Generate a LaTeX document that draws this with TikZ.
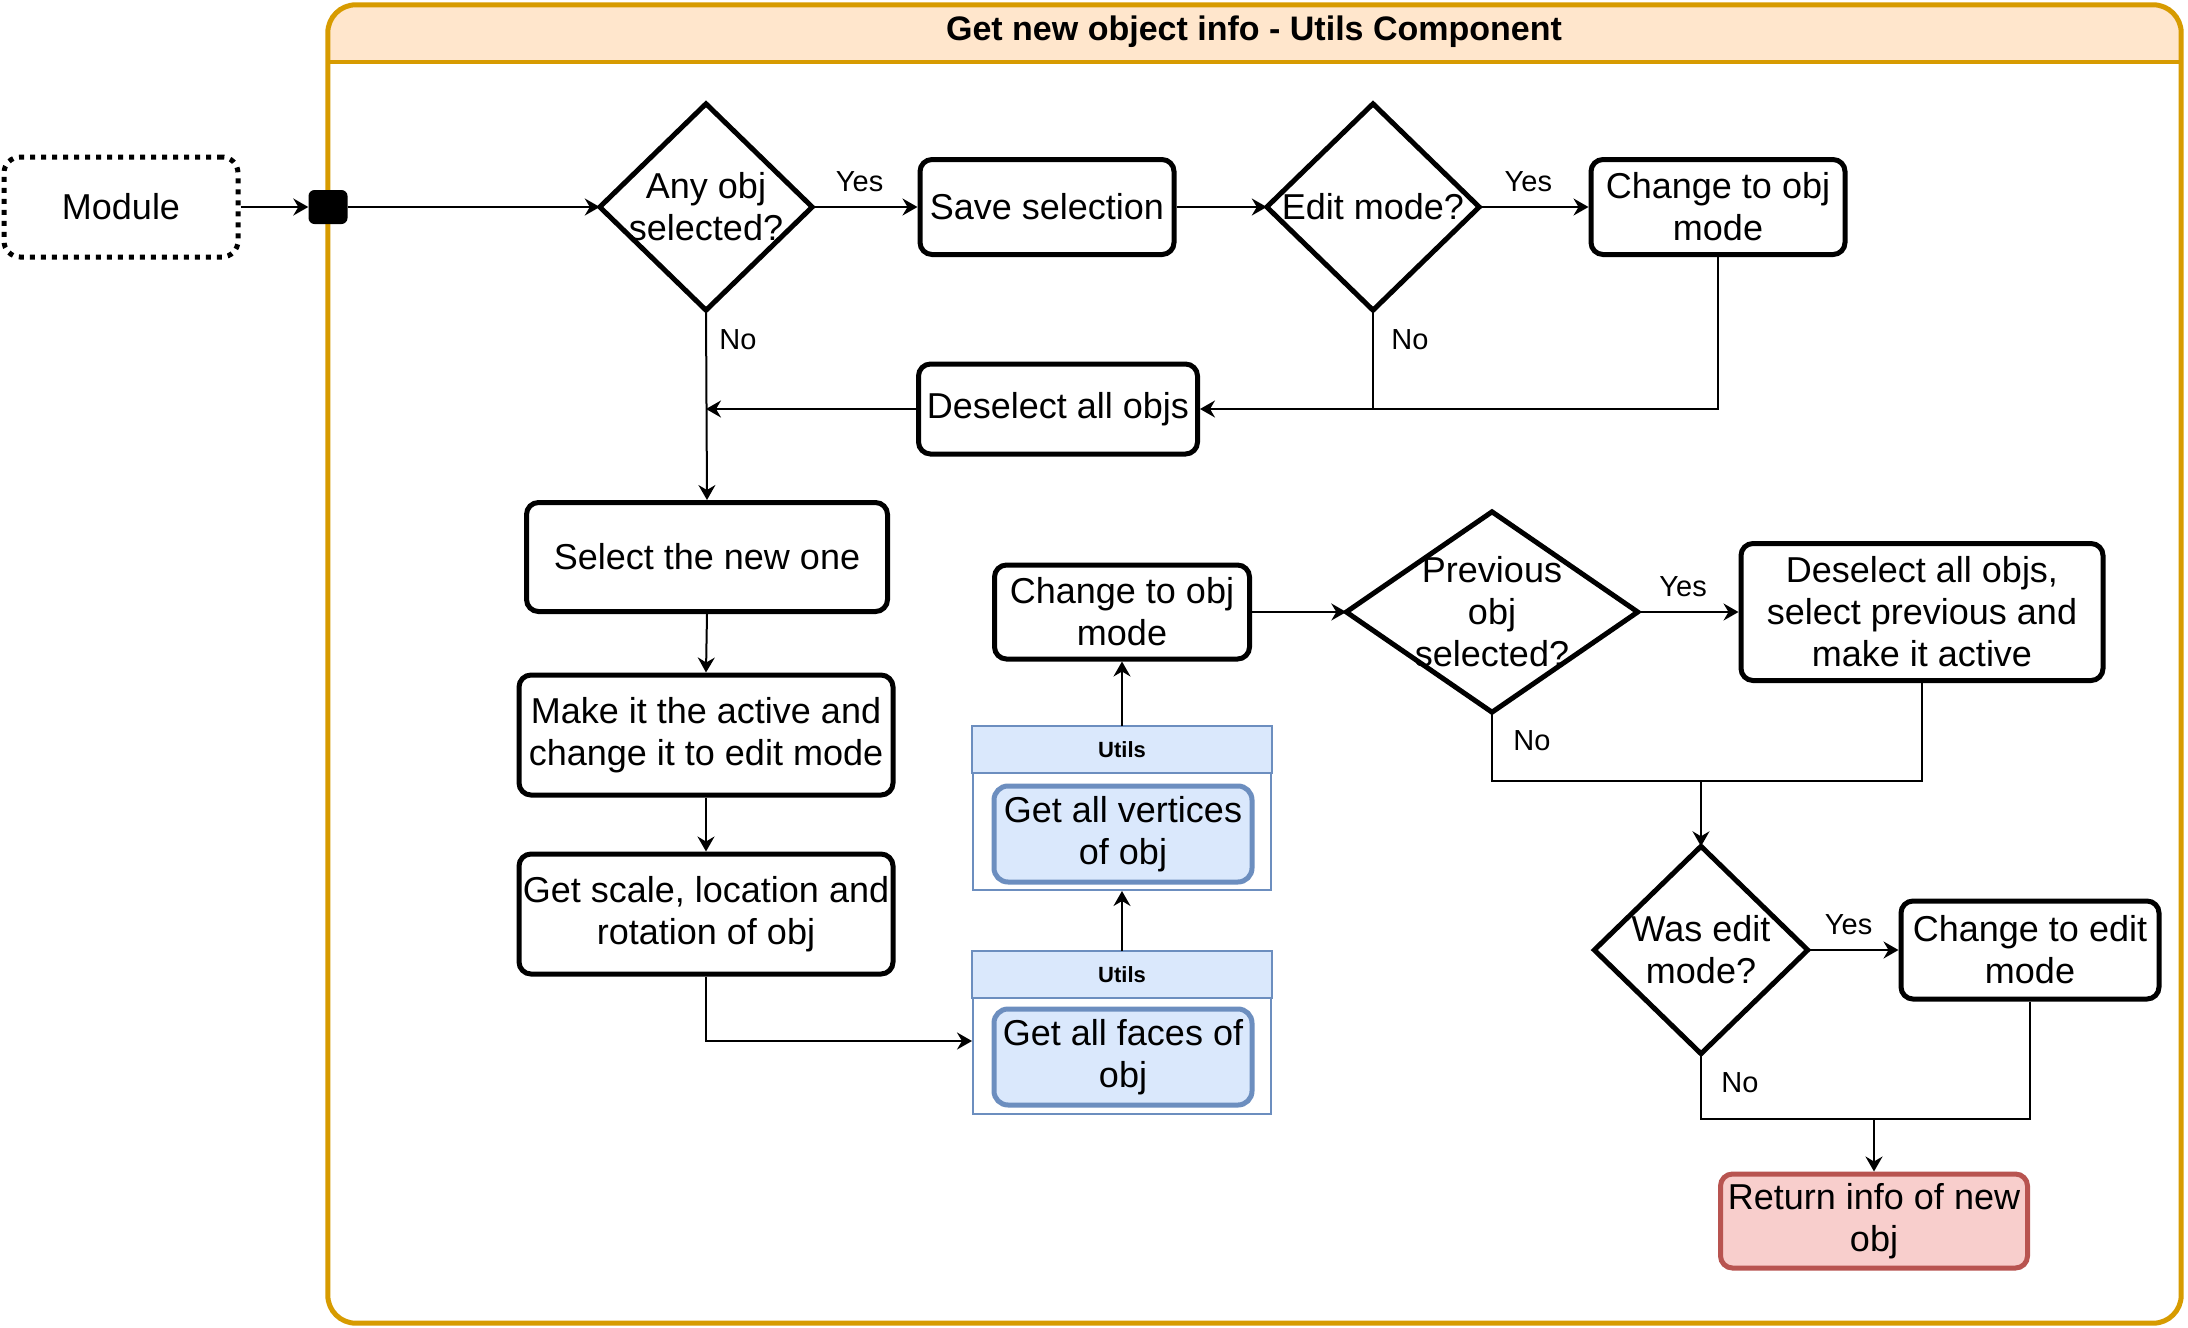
\documentclass[tikz,border=0pt]{standalone}
\usepackage{fontspec}
\setmainfont{Liberation Sans}
\usetikzlibrary{arrows.meta}
\definecolor{frameor}{HTML}{D79B00}
\definecolor{framefill}{HTML}{FFE6CC}
\definecolor{bluefill}{HTML}{DAE8FC}
\definecolor{bluedraw}{HTML}{6C8EBF}
\definecolor{redfill}{HTML}{F8CECC}
\definecolor{reddraw}{HTML}{B85450}
\begin{document}
\begin{tikzpicture}[x=1pt,y=-1pt,
  box/.style={draw, line width=5pt, rounded corners=12pt, fill=white, align=center,
    font=\fontsize{36}{42}\selectfont, inner sep=0pt},
  dtext/.style={draw=none, align=center, font=\fontsize{36}{42}\selectfont, inner sep=0pt},
  dshape/.style={draw, line width=5pt, line join=miter, fill=white},
  ucont/.style={draw=bluedraw, line width=2pt, fill=white, inner sep=0pt},
  uhead/.style={draw=bluedraw, line width=2pt, fill=bluefill},
  ubox/.style={draw=bluedraw, fill=bluefill, line width=5pt, rounded corners=14pt, align=center,
    font=\fontsize{36}{42}\selectfont, inner sep=0pt},
  utitle/.style={font=\fontsize{22}{26}\selectfont\bfseries, inner sep=0pt},
  conn/.style={line width=2pt},
  arr/.style={line width=2pt, -{Stealth[length=15pt, width=17pt, inset=5pt]}},
  lbl/.style={font=\fontsize{29}{34}\selectfont, inner sep=0pt}
]
\useasboundingbox (0,0) rectangle (2188,1328);

% frame
\node[fill=white, rounded corners=28pt, minimum width=1853pt,
  minimum height=1318pt, inner sep=0pt] (frame) at (1254.5,664) {};
\begin{scope}
  \clip[rounded corners=28pt] (frame.south west) rectangle (frame.north east);
  \fill[framefill] (frame.north west) rectangle (2181,62);
\end{scope}
\draw[frameor, line width=4pt] (328,62) -- (2181,62);
\draw[frameor, line width=5pt, rounded corners=28pt] (frame.south west) rectangle (frame.north east);
\node[font=\fontsize{34}{40}\selectfont\bfseries, inner sep=0pt] (title) at (1254,32) {Get new object info - Utils Component};

% module and port
\node[draw, line width=5pt, dash pattern=on 5pt off 6pt, rounded corners=16pt, minimum width=234pt,
  minimum height=100pt, font=\fontsize{36}{42}\selectfont, inner sep=0pt] (module) at (121,207) {Module};
\node[fill=black, rounded corners=6pt, minimum width=39pt, minimum height=34pt, inner sep=0pt] (port) at (328,207) {};

% top row
\node[dtext, minimum width=212pt, minimum height=206pt] (d1) at (706,207) {Any obj\\selected?};
\draw[dshape] (d1.north) -- (d1.east) -- (d1.south) -- (d1.west) -- cycle;
\node[dtext] at (d1) {Any obj\\selected?};

\node[box, minimum width=254pt, minimum height=95pt] (save) at (1047,207) {Save selection};

\node[dtext, minimum width=212pt, minimum height=206pt] (d2) at (1373,207) {Edit mode?};
\draw[dshape] (d2.north) -- (d2.east) -- (d2.south) -- (d2.west) -- cycle;
\node[dtext] at (d2) {Edit mode?};

\node[box, minimum width=254pt, minimum height=95pt] (ch1) at (1718,207) {Change to obj\\mode};

\node[box, minimum width=279pt, minimum height=90pt] (desel) at (1058,409) {Deselect all objs};

% left column
\node[box, minimum width=361pt, minimum height=109pt] (sel) at (707,557) {Select the new one};
\node[box, minimum width=374pt, minimum height=120pt] (make) at (706,735) {Make it the active and\\change it to edit mode};
\node[box, minimum width=374pt, minimum height=120pt] (scale) at (706,914) {Get scale, location and\\rotation of obj};

% utils containers
\node[ucont, minimum width=298pt, minimum height=162pt] (ufaces) at (1122,1033) {};
\draw[uhead] (ufaces.north west) rectangle ([yshift=-47pt]ufaces.north east);
\node[utitle] (ufacest) at ([yshift=-24pt]ufaces.north) {Utils};
\node[ubox, minimum width=258pt, minimum height=96pt] (ifaces) at (1123,1057) {Get all faces of\\obj};

\node[ucont, minimum width=298pt, minimum height=163pt] (uvert) at (1122,808.5) {};
\draw[uhead] (uvert.north west) rectangle ([yshift=-47pt]uvert.north east);
\node[utitle] (uvertt) at ([yshift=-24pt]uvert.north) {Utils};
\node[ubox, minimum width=258pt, minimum height=96pt] (ivert) at (1123,834) {Get all vertices\\of obj};

\node[box, minimum width=255pt, minimum height=94pt] (ch2) at (1122,612) {Change to obj\\mode};

% right part
\node[dtext, minimum width=291pt, minimum height=200pt] (d3) at (1492,612) {Previous\\obj\\selected?};
\draw[dshape] (d3.north) -- (d3.east) -- (d3.south) -- (d3.west) -- cycle;
\node[dtext] at (d3) {Previous\\obj\\selected?};

\node[box, minimum width=362pt, minimum height=137pt] (prev) at (1922,612) {Deselect all objs,\\select previous and\\make it active};

\node[dtext, minimum width=213pt, minimum height=207pt] (d4) at (1701,950) {Was edit\\mode?};
\draw[dshape] (d4.north) -- (d4.east) -- (d4.south) -- (d4.west) -- cycle;
\node[dtext] at (d4) {Was edit\\mode?};

\node[box, minimum width=258pt, minimum height=98pt] (chedit) at (2030,950) {Change to edit\\mode};

\node[box, draw=reddraw, fill=redfill, minimum width=307pt, minimum height=94pt] (ret) at (1874,1221) {Return info of new\\obj};

% connectors
\draw[arr] (module.east) -- (port.west);
\draw[arr] (port.east) -- (d1.west);
\draw[arr] (d1.east) -- node[lbl, above=14pt, pos=0.45] (yes1) {Yes} (save.west);
\draw[arr] (save.east) -- (d2.west);
\draw[arr] (d2.east) -- node[lbl, above=14pt, pos=0.45] (yes2) {Yes} (ch1.west);

\draw[conn] (d2.south) -- (d2.south |- desel.east);
\node[lbl] (no2) at (1410,340) {No};
\draw[arr] (ch1.south) |- (desel.east);
\draw[arr] (desel.west) -- (d1.south |- desel.west);

\draw[arr] (d1.south) -- (sel.north);
\node[lbl] (no1) at (738,340) {No};
\draw[arr] (sel.south) -- (make.north);
\draw[arr] (make.south) -- (scale.north);
\draw[arr] (scale.south) |- ([yshift=-8pt]ufaces.west);
\draw[arr] (ufaces.north) -- (uvert.south);
\draw[arr] (uvert.north) -- (ch2.south);
\draw[arr] (ch2.east) -- (d3.west);
\draw[arr] (d3.east) -- node[lbl, above=14pt, pos=0.45] (yes3) {Yes} (prev.west);

\coordinate (j1) at (1701,781);
\draw[conn] (d3.south) |- (j1);
\draw[conn] (prev.south) |- (j1);
\draw[arr] (j1) -- (d4.north);
\node[lbl] (no3) at (1532,741) {No};

\draw[arr] (d4.east) -- node[lbl, above=14pt, pos=0.45] (yes4) {Yes} (chedit.west);
\coordinate (j2) at (1874,1119);
\draw[conn] (d4.south) |- (j2);
\draw[conn] (chedit.south) |- (j2);
\draw[arr] (j2) -- (ret.north);
\node[lbl] (no4) at (1740,1083) {No};
\end{tikzpicture}
\end{document}
